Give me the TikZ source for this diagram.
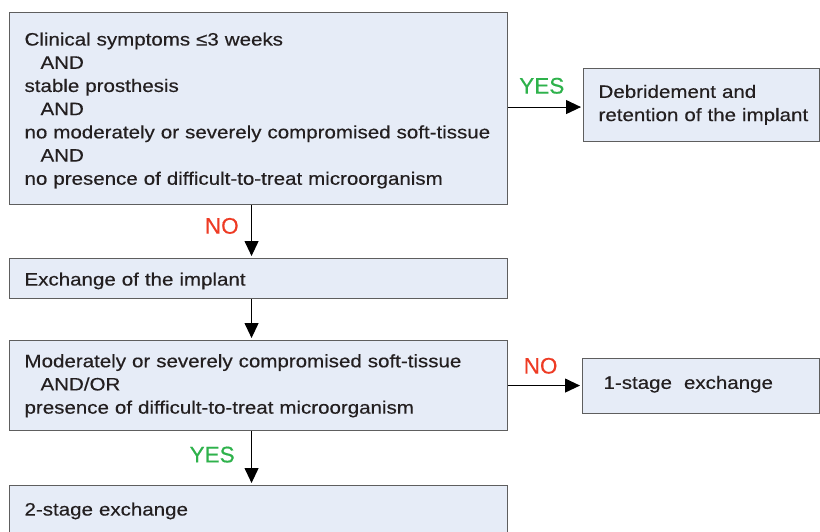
\documentclass[tikz,border=0pt]{standalone}
\usepackage{fontspec}
\setmainfont{Liberation Sans}[FakeStretch=1.14, FakeBold=0.4]
\newfontfamily\answerfont{Liberation Sans}[FakeBold=0.4]
\usepackage{xcolor}
\usetikzlibrary{arrows.meta,positioning}
\definecolor{boxfill}{HTML}{E6ECF7}
\definecolor{boxline}{HTML}{5E5E5E}
\definecolor{yesgreen}{HTML}{2EB24B}
\definecolor{nored}{HTML}{EE3B24}
\definecolor{txt}{HTML}{231F20}
\tikzset{
  stepbox/.style={
    rectangle, draw=boxline, fill=boxfill, line width=1.1pt,
    anchor=north west, align=left, text=txt,
    font=\fontsize{18}{23.2}\selectfont,
    inner xsep=15pt, inner ysep=0pt
  },
  flow/.style={-{Triangle[length=15pt,width=14pt]}, line width=1.1pt,
    color=black, shorten >=2pt},
  answer/.style={font=\answerfont\fontsize{22.5}{24}\selectfont, color=#1},
}
\newcommand{\ind}{\hspace*{16pt}}
\begin{document}
\begin{tikzpicture}[x=1pt, y=-1pt]
  \useasboundingbox[fill=white] (0,0) rectangle (820,531);
  % boxes
  \node[stepbox, text width=468pt, text height=33pt, text depth=159pt] (crit) at (9,12)
    {Clinical symptoms ≤3 weeks\\
     \ind AND\\
     stable prosthesis\\
     \ind AND\\
     no moderately or severely compromised soft-tissue\\
     \ind AND\\
     no presence of difficult-to-treat microorganism};
  \node[stepbox, text width=206pt, text height=29.3pt, text depth=43.7pt] (debr) at (583,68)
    {Debridement and\\\mbox{retention of the implant}};
  \node[stepbox, text width=468pt, text height=27pt, text depth=13pt] (exch) at (9,258)
    {Exchange of the implant};
  \node[stepbox, text width=195pt, text height=30.3pt, text depth=24.7pt, inner xsep=21pt] (one) at (582,358)
    {1-stage\ \ exchange};
  \node[stepbox, text width=468pt, text height=26.7pt, text depth=63.3pt] (soft) at (9,340)
    {Moderately or severely compromised soft-tissue\\
     \ind AND/OR\\
     presence of difficult-to-treat microorganism};
  \node[stepbox, text width=468pt, text height=30pt, text depth=40pt] (two) at (9,485)
    {2-stage exchange};
  % connectors
  \draw[flow] ([yshift=1.5pt]crit.east) -- ([yshift=1.5pt]crit.east -| debr.west)
    node[answer=yesgreen, pos=0.45, anchor=base, yshift=13.5pt] (y1) {YES};
  \draw[flow] ([xshift=-7pt]crit.south) -- ([xshift=-7pt]exch.north)
    node[answer=nored, pos=0.54, anchor=base east, xshift=-9pt] (n1) {NO};
  \draw[flow] ([xshift=-7pt]exch.south) -- ([xshift=-7pt]soft.north);
  \draw[flow] (soft.east) -- (soft.east -| one.west)
    node[answer=nored, pos=0.44, anchor=base, yshift=12pt] (n2) {NO};
  \draw[flow] ([xshift=-7pt]soft.south) -- ([xshift=-7pt]two.north)
    node[answer=yesgreen, pos=0.58, anchor=base east, xshift=-13pt] (y2) {YES};
\end{tikzpicture}
\end{document}
